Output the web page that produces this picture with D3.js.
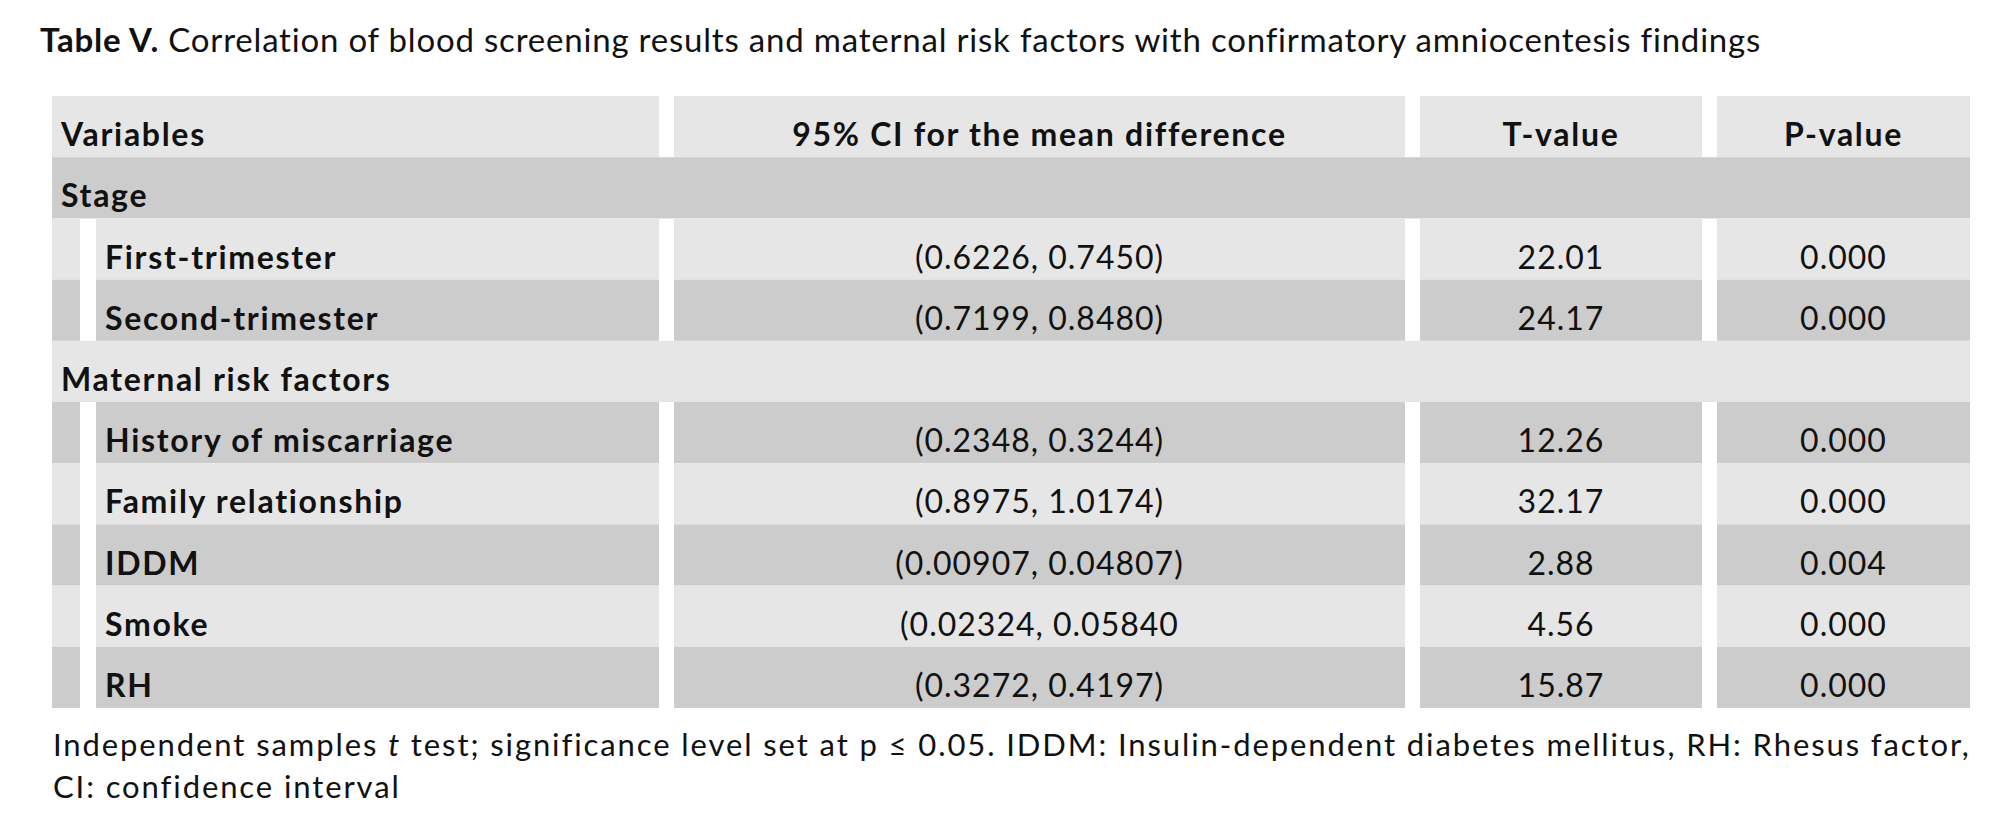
<!DOCTYPE html>
<html>
<head>
<meta charset="utf-8">
<script src="https://cdn.jsdelivr.net/npm/d3@7"></script>
<style>
  body { margin: 0; background: #fff; }
  svg text { font-family: Lato, "Open Sans", sans-serif; fill: #111; }
</style>
</head>
<body>
<div id="table"></div>
<script>
// table content
var headers = ["Variables", "95% CI for the mean difference", "T-value", "P-value"];
var groups = ["Stage", "Maternal risk factors"];
var variables = ["First-trimester", "Second-trimester", "History of miscarriage",
                 "Family relationship", "IDDM", "Smoke", "RH"];
var variableGroup = [0, 0, 1, 1, 1, 1, 1];
var ciText = ["(0.6226, 0.7450)", "(0.7199, 0.8480)", "(0.2348, 0.3244)",
              "(0.8975, 1.0174)", "(0.00907, 0.04807)", "(0.02324, 0.05840", "(0.3272, 0.4197)"];
var tValues = [22.01, 24.17, 12.26, 32.17, 2.88, 4.56, 15.87];
var pValues = [0.000, 0.000, 0.000, 0.000, 0.004, 0.000, 0.000];

var title = "Correlation of blood screening results and maternal risk factors with confirmatory amniocentesis findings";
var noteLine2 = "CI: confidence interval";

var W = 2000, H = 835;
var light = "#e6e6e6", dark = "#cccccc";

// build row list: header, group rows, variable rows
var rows = [{type: "header"}];
groups.forEach(function (gname, gi) {
    rows.push({type: "group", label: gname});
    variables.forEach(function (v, i) {
        if (variableGroup[i] === gi)
            rows.push({type: "var", label: v, ci: ciText[i], t: tValues[i], p: pValues[i]});
    });
});
rows.forEach(function (r, i) { r.idx = i; });

var svg = d3.select("#table").append("svg")
    .attr("width", W).attr("height", H);

// columns: left/right edges
var cols = [
    {x0: 52, x1: 659},
    {x0: 674, x1: 1405},
    {x0: 1420, x1: 1702},
    {x0: 1717, x1: 1970}
];
var stubEnd = 80, indentStart = 96;

var y = d3.scaleBand()
    .domain(rows.map(function (r) { return r.idx; }))
    .range([96, 708])
    .padding(0);

var fmtT = d3.format(".2f"), fmtP = d3.format(".3f");
var fs = 32;

function cellText(sel) {
    return sel.style("font-size", fs + "px").style("letter-spacing", "1px");
}
function boldText(sel) {
    return sel.style("font-size", fs + "px").style("letter-spacing", "1.7px")
        .style("font-weight", "bold");
}

// title
var t = svg.append("text").attr("x", 40).attr("y", 52)
    .style("font-size", "33px").style("letter-spacing", "0.8px");
t.append("tspan").style("font-weight", "bold").text("Table V.");
t.append("tspan").text(" " + title);

var rowG = svg.selectAll("g.row").data(rows).enter().append("g")
    .attr("class", "row")
    .attr("transform", function (d) { return "translate(0," + y(d.idx) + ")"; });

rowG.each(function (d) {
    var g = d3.select(this);
    var fill = d.idx % 2 === 0 ? light : dark;
    var h = y.bandwidth();
    var base = h * 0.82;

    if (d.type === "group") {
        g.append("rect").attr("x", cols[0].x0).attr("width", cols[3].x1 - cols[0].x0)
            .attr("height", h).attr("fill", fill);
        g.append("text").attr("x", 61).attr("y", base)
            .call(boldText).text(d.label);
        return;
    }

    cols.forEach(function (c, ci) {
        if (d.type === "var" && ci === 0) {
            g.append("rect").attr("x", c.x0).attr("width", stubEnd - c.x0)
                .attr("height", h).attr("fill", fill);
            g.append("rect").attr("x", indentStart).attr("width", c.x1 - indentStart)
                .attr("height", h).attr("fill", fill);
        } else {
            g.append("rect").attr("x", c.x0).attr("width", c.x1 - c.x0)
                .attr("height", h).attr("fill", fill);
        }
    });

    if (d.type === "header") {
        g.selectAll("text").data(headers).enter().append("text")
            .attr("x", function (s, i) { return i === 0 ? 61 : (cols[i].x0 + cols[i].x1) / 2; })
            .attr("y", base)
            .attr("text-anchor", function (s, i) { return i === 0 ? "start" : "middle"; })
            .call(boldText)
            .text(function (s) { return s; });
    } else {
        g.append("text").attr("x", 105).attr("y", base)
            .call(boldText).text(d.label);
        var vals = [d.ci, fmtT(d.t), fmtP(d.p)];
        g.selectAll("text.val").data(vals).enter().append("text")
            .attr("class", "val")
            .attr("x", function (s, i) { return (cols[i + 1].x0 + cols[i + 1].x1) / 2; })
            .attr("y", base)
            .attr("text-anchor", "middle")
            .call(cellText)
            .text(function (s) { return s; });
    }
});

// footnote
var note = svg.append("text").attr("x", 53).attr("y", 756)
    .style("font-size", "31px").style("letter-spacing", "1.9px");
note.append("tspan").text("Independent samples ");
note.append("tspan").style("font-style", "italic").text("t");
note.append("tspan").text(" test; significance level set at p \u2264 0.05. IDDM: Insulin-dependent diabetes mellitus, RH: Rhesus factor,");
svg.append("text").attr("x", 53).attr("y", 798)
    .style("font-size", "31px").style("letter-spacing", "1.9px").text(noteLine2);
</script>
</body>
</html>
